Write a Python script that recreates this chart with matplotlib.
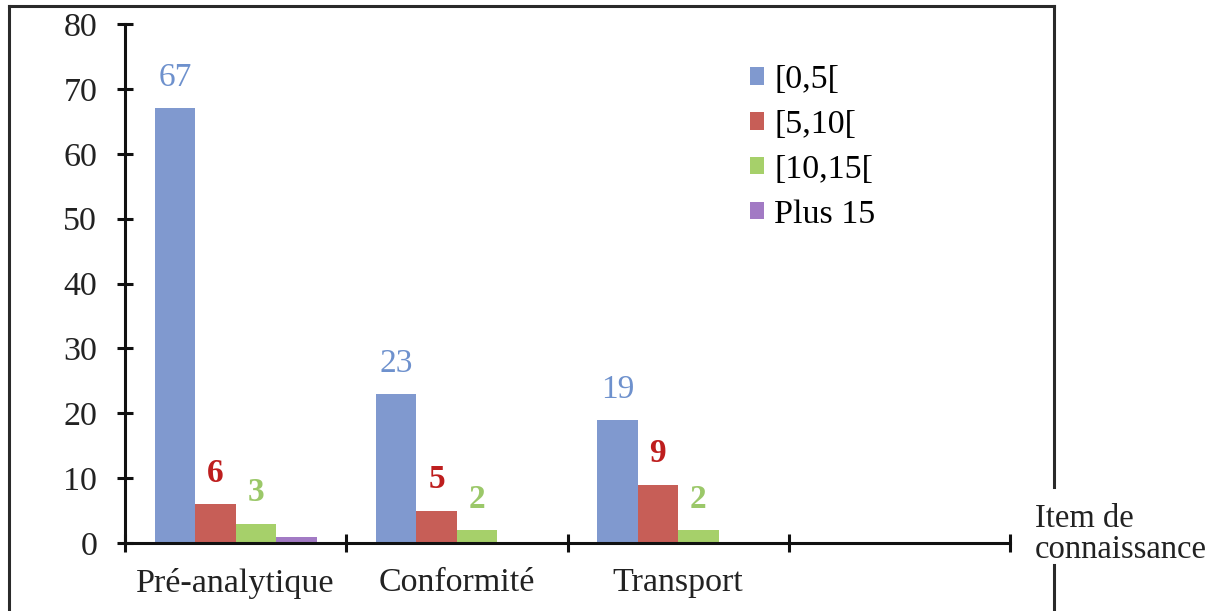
import matplotlib.pyplot as plt
import numpy as np
from matplotlib.lines import Line2D

# Données
categories = ['Pré-analytique', 'Conformité', 'Transport', '']
series = ['[0,5[', '[5,10[', '[10,15[', 'Plus 15']
val_0_5 = [67, 23, 19, 0]
val_5_10 = [6, 5, 9, 0]
val_10_15 = [3, 2, 2, 0]
val_plus15 = [1, 0, 0, 0]
valeurs = [val_0_5, val_5_10, val_10_15, val_plus15]

# Étiquettes affichées au-dessus des barres (None = pas d'étiquette)
etiquettes = [
    ['67', '23', '19', None],
    ['6', '5', '9', None],
    ['3', '2', '2', None],
    [None, None, None, None],
]

couleurs = ['#8099CF', '#C75E57', '#A6D06A', '#A27AC4']
couleurs_txt = ['#6E91CD', '#BE1E1E', '#9BC869', '#A27AC4']
poids_txt = ['normal', 'bold', 'bold', 'normal']

plt.rcParams['font.family'] = ['Liberation Serif', 'DejaVu Serif']

fig = plt.figure(figsize=(12.21, 6.11), dpi=100)
ax = fig.add_axes([0.1024, 0.1113, 0.7248, 0.8494])

x = np.arange(len(categories))
largeur = 0.183
for i, (nom, vals) in enumerate(zip(series, valeurs)):
    pos = x + (i - 1.5) * largeur
    ax.bar(pos, vals, width=largeur, color=couleurs[i], label=nom, zorder=2)
    for p, v, lab in zip(pos, vals, etiquettes[i]):
        if lab is None:
            continue
        ax.annotate(lab, (p, v), xytext=(0, 16), textcoords='offset points',
                    ha='center', va='baseline', fontsize=24,
                    color=couleurs_txt[i], fontweight=poids_txt[i])

ax.set_xlim(-0.5, 3.5)
ax.set_ylim(0, 80)
ax.set_yticks(np.arange(0, 81, 10))
ax.set_xticks(np.arange(-0.5, 3.6, 1))
ax.set_xticklabels([])
ax.set_xticks(x, minor=True)
ax.set_xticklabels(categories, minor=True)

for s in ['top', 'right']:
    ax.spines[s].set_visible(False)
for s in ['left', 'bottom']:
    ax.spines[s].set_linewidth(2.2)
    ax.spines[s].set_color('#111111')

ax.tick_params(axis='y', direction='inout', length=12, width=2.2,
               labelsize=24.5, pad=14, colors='#111111', labelcolor='#222222')
ax.tick_params(axis='x', which='major', direction='inout', length=13, width=2.2,
               color='#111111')
ax.tick_params(axis='x', which='minor', length=0, labelsize=24.5, pad=18,
               labelcolor='#222222')

ax.legend(loc='upper left', bbox_to_anchor=(0.6, 0.922), bbox_transform=fig.transFigure,
          frameon=False, fontsize=24.5, handlelength=0.42, handleheight=0.42,
          handletextpad=0.3, labelspacing=0.42, borderpad=0)

# Cadre autour de la figure
cadre = dict(color='#2a2a2a', linewidth=2.2, transform=fig.transFigure)
fig.add_artist(Line2D([9 / 1221, 9 / 1221], [0, 1 - 6 / 611], **cadre))
fig.add_artist(Line2D([9 / 1221, 1054 / 1221], [1 - 6 / 611, 1 - 6 / 611], **cadre))
fig.add_artist(Line2D([1054 / 1221, 1054 / 1221], [1 - 6 / 611, 1 - 487 / 611], **cadre))
fig.add_artist(Line2D([1054 / 1221, 1054 / 1221], [1 - 565 / 611, 0], **cadre))

fig.text(1035 / 1221, 1 - 534 / 611, 'Item de\nconnaissance', fontsize=23.5,
         ha='left', va='center', linespacing=1.0, color='#222222')

fig.savefig('out.png', dpi=100, facecolor='white')
